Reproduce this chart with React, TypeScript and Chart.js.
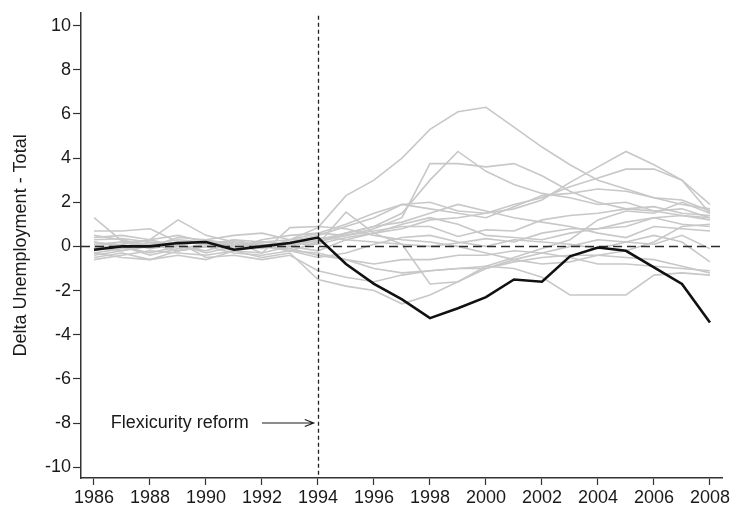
import { useEffect, useRef } from "react";
import { Chart, registerables } from "chart.js";

Chart.register(...registerables);

// Years covered by the series
const years = [
  1986, 1987, 1988, 1989, 1990, 1991, 1992, 1993, 1994, 1995, 1996, 1997,
  1998, 1999, 2000, 2001, 2002, 2003, 2004, 2005, 2006, 2007, 2008,
];

// Treated unit (Denmark)
const treated = [
  -0.15, 0.0, 0.0, 0.15, 0.2, -0.15, 0.0, 0.15, 0.4, -0.8, -1.7, -2.4, -3.25,
  -2.8, -2.3, -1.5, -1.6, -0.45, -0.05, -0.2, -0.95, -1.7, -3.45,
];

// Placebo units
const placebo01 = [0.3, 0.35, 0.2, 0.1, 0.25, 0.0, 0.2, 0.3, 0.85, 2.3, 3.0, 4.0, 5.3, 6.1, 6.3, 5.4, 4.5, 3.7, 3.0, 2.6, 2.2, 1.9, 1.7];
const placebo02 = [-0.1, 0.1, 0.3, 0.0, -0.2, 0.2, 0.1, 0.0, 0.3, 0.6, 0.9, 1.5, 3.0, 4.3, 3.4, 2.8, 2.4, 2.2, 1.9, 2.0, 1.6, 1.4, 1.3];
const placebo03 = [0.5, 0.3, 0.0, 0.2, 0.1, -0.2, 0.0, 0.2, 0.2, 0.5, 0.8, 1.3, 3.75, 3.75, 3.6, 3.75, 3.2, 2.5, 2.0, 1.7, 1.8, 1.5, 1.4];
const placebo04 = [0.0, -0.2, 0.1, 0.3, 0.2, 0.1, -0.1, 0.3, 0.6, 1.0, 1.5, 1.9, 2.0, 1.6, 1.5, 1.7, 2.1, 2.9, 3.6, 4.3, 3.7, 3.0, 1.9];
const placebo05 = [-0.3, -0.1, 0.2, -0.2, 0.0, 0.3, 0.2, 0.1, 0.1, 0.4, 0.6, 0.8, 1.2, 1.3, 1.5, 1.9, 2.2, 2.7, 3.1, 3.5, 3.5, 3.0, 1.5];
const placebo06 = [0.2, 0.0, -0.3, 0.0, 0.3, 0.1, 0.0, 0.2, 0.5, 0.9, 1.3, 1.9, 1.7, 1.5, 1.3, 1.8, 2.3, 2.4, 2.6, 2.5, 2.2, 2.1, 1.6];
const placebo07 = [0.7, 0.7, 0.8, 0.2, 0.1, -0.1, 0.3, 0.5, 0.6, 0.5, 0.7, 0.9, 0.9, 0.45, 0.75, 0.7, 1.2, 1.4, 1.5, 1.7, 1.6, 1.7, 1.3];
const placebo08 = [1.3, 0.25, 0.1, -0.2, 0.0, 0.2, -0.3, 0.0, -0.2, 0.3, 0.2, 0.1, 0.0, 0.15, 0.35, 0.2, 0.6, 0.8, 0.8, 0.9, 1.3, 1.4, 1.2];
const placebo09 = [0.0, 0.2, -0.1, 0.1, -0.3, 0.0, 0.2, 0.1, 0.1, 1.55, 0.6, 0.1, -1.7, -1.6, -0.9, -0.5, -0.1, 0.3, 1.2, 1.6, 1.5, 2.0, 1.5];
const placebo10 = [-0.6, -0.4, -0.2, -0.3, -0.4, -0.2, -0.5, -0.3, -1.5, -1.8, -2.0, -2.6, -2.2, -1.6, -1.0, -0.6, -0.3, 0.0, 0.3, 0.2, 0.1, 0.5, -0.1];
const placebo11 = [-0.3, -0.5, -0.6, -0.2, 0.0, -0.3, -0.4, -0.2, -0.3, -0.6, -1.0, -1.2, -1.1, -1.0, -0.9, -1.0, -1.4, -2.2, -2.2, -2.2, -1.3, -1.2, -1.3];
const placebo12 = [-0.4, -0.2, 0.0, 0.2, -0.5, -0.4, -0.6, -0.4, -1.1, -1.4, -1.6, -1.3, -1.1, -1.0, -1.0, -0.7, -0.5, -0.4, -0.4, -0.5, -0.6, -0.9, -1.2];
const placebo13 = [0.2, 0.0, -0.4, -0.1, 0.1, 0.3, 0.0, -0.1, -0.4, -0.6, -0.8, -0.6, -0.6, -0.4, -0.4, -0.2, -0.3, -0.5, -0.8, -0.8, -0.9, -1.0, -1.1];
const placebo14 = [-0.2, 0.1, 0.3, 0.5, 0.2, -0.1, 0.1, -0.2, 0.2, 0.6, 0.9, 1.1, 1.5, 1.9, 1.6, 1.3, 1.1, 0.9, 0.6, 0.4, 0.9, 0.8, 0.7];
const placebo15 = [0.4, 0.5, 0.3, 1.2, 0.5, 0.2, 0.0, -0.2, -0.5, -0.3, 0.1, 0.4, 0.5, 0.2, 0.0, 0.3, 0.2, 0.1, -0.1, 0.2, 0.5, 0.2, -0.7];
const placebo16 = [-0.5, -0.3, -0.6, -0.4, -0.6, -0.2, -0.3, 0.85, 0.9, 0.8, 0.5, 0.3, 0.2, 0.0, -0.3, -0.6, -0.8, -0.7, -0.4, -0.2, 0.2, 0.9, 1.0];
const placebo17 = [0.1, 0.2, 0.0, 0.4, 0.3, 0.5, 0.6, 0.3, 0.4, 0.3, 0.6, 1.0, 1.3, 1.0, 0.5, 0.4, 0.3, 0.6, 0.8, 1.1, 1.3, 1.0, 0.9];

const placebos = [
  placebo01, placebo02, placebo03, placebo04, placebo05, placebo06,
  placebo07, placebo08, placebo09, placebo10, placebo11, placebo12,
  placebo13, placebo14, placebo15, placebo16, placebo17,
];

// Axis ticks
const xTicks = [1986, 1988, 1990, 1992, 1994, 1996, 1998, 2000, 2002, 2004, 2006, 2008];
const yTicks = [-10, -8, -6, -4, -2, 0, 2, 4, 6, 8, 10];

const yTitle = "Delta Unemployment - Total";
const reformYear = 1994;
const reformLabel = "Flexicurity reform";
const reformLabelLevel = -8;

const FONT = "'Liberation Sans', Arial, Helvetica, sans-serif";

const referenceLines = {
  id: "referenceLines",
  afterDatasetDraw(chart: any, args: any) {
    // draw between the grey placebo lines and the treated line
    if (args.index !== 1) return;
    const { ctx, chartArea } = chart;
    const xs = chart.scales.x;
    const ys = chart.scales.y;
    ctx.save();
    // zero line
    const y0 = ys.getPixelForValue(0);
    ctx.strokeStyle = "#2b2b2b";
    ctx.lineWidth = 1.5;
    ctx.setLineDash([9, 5]);
    ctx.beginPath();
    ctx.moveTo(chartArea.left, y0);
    ctx.lineTo(chartArea.right, y0);
    ctx.stroke();
    // reform year
    const xr = Math.round(xs.getPixelForValue(reformYear)) + 0.5;
    ctx.lineWidth = 1.3;
    ctx.strokeStyle = "#222222";
    ctx.setLineDash([4, 3]);
    ctx.beginPath();
    ctx.moveTo(xr, chartArea.top + 3);
    ctx.lineTo(xr, chartArea.bottom);
    ctx.stroke();
    ctx.restore();
  },
  afterDraw(chart: any) {
    const { ctx } = chart;
    const xs = chart.scales.x;
    const ys = chart.scales.y;
    const yl = ys.getPixelForValue(reformLabelLevel);
    ctx.save();
    ctx.fillStyle = "#1a1a1a";
    ctx.font = `18px ${FONT}`;
    ctx.textBaseline = "middle";
    ctx.textAlign = "left";
    ctx.fillText(reformLabel, xs.getPixelForValue(1986.6), yl);
    // arrow
    const x1 = xs.getPixelForValue(1992.0);
    const x2 = xs.getPixelForValue(1993.85);
    ctx.strokeStyle = "#1a1a1a";
    ctx.lineWidth = 1.1;
    ctx.beginPath();
    ctx.moveTo(x1, yl);
    ctx.lineTo(x2, yl);
    ctx.moveTo(x2 - 9, yl - 3.5);
    ctx.lineTo(x2, yl);
    ctx.lineTo(x2 - 9, yl + 3.5);
    ctx.stroke();
    ctx.restore();
  },
};

export default function App() {
  const canvasRef = useRef<HTMLCanvasElement | null>(null);

  useEffect(() => {
    const canvas = canvasRef.current;
    if (!canvas) return;

    const toPoints = (arr: number[]) => years.map((x, i) => ({ x, y: arr[i] }));

    const datasets: any[] = [
      {
        label: "Denmark",
        data: toPoints(treated),
        borderColor: "#111111",
        borderWidth: 2.6,
        pointRadius: 0,
        tension: 0,
      },
      ...placebos.map((arr, i) => ({
        label: `placebo ${i + 1}`,
        data: toPoints(arr),
        borderColor: "#c8c8c8",
        borderWidth: 1.6,
        pointRadius: 0,
        tension: 0,
      })),
    ];

    const chart = new Chart(canvas, {
      type: "line",
      data: { datasets },
      options: {
        animation: false,
        responsive: false,
        events: [],
        layout: { padding: { top: 5, right: 19, left: 0, bottom: 0 } },
        plugins: {
          legend: { display: false },
          tooltip: { enabled: false },
        },
        scales: {
          x: {
            type: "linear",
            min: 1985.536,
            max: 2008.43,
            afterBuildTicks: (s: any) => {
              s.ticks = xTicks.map((v) => ({ value: v }));
            },
            afterFit: (s: any) => {
              s.height = 33;
            },
            ticks: {
              callback: (v: any) => String(v),
              font: { family: FONT, size: 18 },
              color: "#1a1a1a",
              padding: 2,
              maxRotation: 0,
              autoSkip: false,
            },
            grid: {
              drawOnChartArea: false,
              drawTicks: true,
              tickLength: 7,
              tickColor: "#333333",
              tickWidth: 1.2,
            },
            border: { display: true, color: "#333333", width: 1.5 },
          },
          y: {
            type: "linear",
            min: -10.49,
            max: 10.58,
            afterBuildTicks: (s: any) => {
              s.ticks = yTicks.map((v) => ({ value: v }));
            },
            afterFit: (s: any) => {
              s.width = 81;
            },
            ticks: {
              font: { family: FONT, size: 18 },
              color: "#1a1a1a",
              padding: 2,
            },
            grid: {
              drawOnChartArea: false,
              drawTicks: true,
              tickLength: 8,
              tickColor: "#333333",
              tickWidth: 1.2,
            },
            border: { display: true, color: "#333333", width: 1.5 },
            title: {
              display: true,
              text: yTitle,
              font: { family: FONT, size: 18 },
              color: "#1a1a1a",
              padding: { top: 10, bottom: 0 },
            },
          },
        },
      },
      plugins: [referenceLines],
    });

    return () => chart.destroy();
  }, []);

  return (
    <div style={{ position: "absolute", left: 0, top: 0, width: 741, height: 511, background: "#ffffff" }}>
      <canvas ref={canvasRef} width={741} height={511} />
    </div>
  );
}
